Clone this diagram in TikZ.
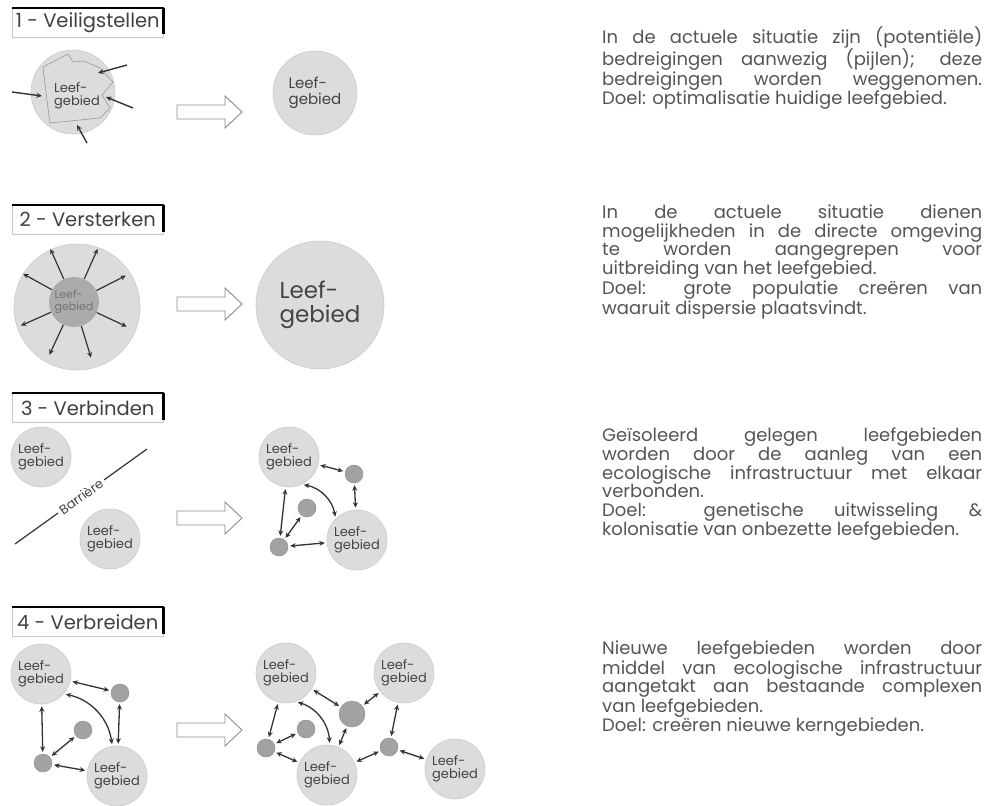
\documentclass[tikz,border=0pt]{standalone}
\usepackage{fontspec}
\setmainfont{Poppins}
\usetikzlibrary{arrows.meta,calc}
\setlength{\parindent}{0pt}
\definecolor{habfill}{HTML}{DCDCDC}
\definecolor{habline}{HTML}{CACACA}
\definecolor{stonefill}{HTML}{A2A2A2}
\definecolor{coregray}{HTML}{ABABAB}
\definecolor{inkgray}{HTML}{333333}
\definecolor{textgray}{HTML}{555555}
\definecolor{labelgray}{HTML}{444444}
\tikzset{
  habitat/.style={circle, fill=habfill, draw=habline, line width=0.6pt, minimum size=60pt, inner sep=0pt,
    align=left, text=labelgray, font=\fontsize{13}{13.5}\selectfont},
  stone/.style={circle, fill=stonefill, draw=stonefill!85!black, line width=0.4pt, minimum size=18pt, inner sep=0pt},
  link/.style={{Stealth[length=5.5pt,width=5pt]}-{Stealth[length=5.5pt,width=5pt]}, line width=1.3pt, draw=inkgray,
    shorten <=2pt, shorten >=2pt},
  threat/.style={-{Stealth[length=5.5pt,width=5pt]}, line width=1.4pt, draw=inkgray},
  spoke/.style={-{Stealth[length=5.5pt,width=5pt]}, line width=1.2pt, draw=inkgray},
  titlebox/.style={draw=black!22, line width=0.5pt, anchor=north west, minimum width=151pt,
    minimum height=29pt, inner xsep=2pt, text=black!75, font=\fontsize{19.5}{19.5}\selectfont},
  titlerule/.style={draw=black, line width=2pt},
  bodytext/.style={anchor=north west, text width=380pt, align=justify, inner sep=0pt, text=textgray,
    font=\fontsize{18}{18.2}\selectfont},
  fwd/.pic={\draw[draw=black!45, fill=white, line width=0.9pt] (0,-7) -- (48,-7) -- (48,-16) -- (65,0) -- (48,16) -- (48,7) -- (0,7) -- cycle;}
}
\begin{document}
\begin{tikzpicture}[x=1pt, y=-1pt]
  \useasboundingbox[fill=white] (0,0) rectangle (984,805);

  % titles
  \node[titlebox] (t1) at (12,8) {1 - Veiligstellen};
  \node[titlebox] (t2) at (12,205) {2 - Versterken};
  \node[titlebox] (t3) at (12,393) {3 - Verbinden};
  \node[titlebox] (t4) at (12,607) {4 - Verbreiden};
  \foreach \t in {t1,t2,t3,t4} {
    \draw[titlerule] (\t.north west) -- (\t.north east);
    \draw[titlerule, line width=3.2pt] (\t.north east) -- ($(\t.south east)+(0,-3)$);
  }

  % 1 - veiligstellen
  \node[habitat, minimum size=84pt] (hab1a) at (73,92) {};
  \draw[black!40, line width=0.6pt] (43,67) -- (68,54) -- (73,62) -- (84,61) -- (100,68) -- (113,82)
    -- (102,95) -- (110,108) -- (100,118) -- (50,123) -- (47,100) -- cycle;
  \node[align=left, text=labelgray, font=\fontsize{13}{13.5}\selectfont] (lab1a) at (77,96) {Leef-\\gebied};
  \coordinate (thr1s) at (127,65);  \coordinate (thr1e) at (98,73);
  \coordinate (thr2s) at (12,92);   \coordinate (thr2e) at (42,96);
  \coordinate (thr3s) at (133,108); \coordinate (thr3e) at (106,97);
  \coordinate (thr4s) at (87,143);  \coordinate (thr4e) at (77,125);
  \foreach \i in {1,...,4} \draw[threat] (thr\i s) -- (thr\i e);
  \pic at (177,112) {fwd};
  \node[habitat, minimum size=84pt, font=\fontsize{15}{16}\selectfont] (hab1b) at (315,93) {Leef-\\gebied};

  % 2 - versterken
  \node[habitat, minimum size=126pt] (grow) at (77,307) {};
  \node[circle, fill=coregray, minimum size=50pt, inner sep=0pt, align=left, text=black!55,
    font=\fontsize{11}{11.5}\selectfont] (core) at (74,302) {Leef-\\gebied};
  \foreach \a in {27,66,114,151,204,245,287,335}
    \draw[spoke] (core.\a) -- ++(\a:33pt);
  \pic at (177,304) {fwd};
  \node[habitat, minimum size=128pt, font=\fontsize{23}{24}\selectfont] (hab2b) at (320,305) {Leef-\\gebied};

  % 3 - verbinden
  \node[habitat] (hab3a) at (41,457) {Leef-\\gebied};
  \node[habitat] (hab3b) at (110,539) {Leef-\\gebied};
  \coordinate (barS) at (15,544);
  \coordinate (barE) at (147,449);
  \draw[inkgray, line width=1.2pt] (barS) -- (barE)
    node[midway, sloped, fill=white, inner xsep=3pt, inner ysep=1pt, text=labelgray,
      font=\fontsize{13}{13}\selectfont] (barlab) {Barrière};
  \pic at (177,518) {fwd};
  \node[habitat] (hab3c) at (289,457) {Leef-\\gebied};
  \node[habitat] (hab3d) at (357,540) {Leef-\\gebied};
  \node[stone] (s1) at (354,474) {};
  \node[stone] (s2) at (307,508) {};
  \node[stone] (s3) at (279,547) {};
  \draw[link] (hab3c) -- (s1);
  \draw[link] (s1) -- (hab3d);
  \draw[link] (hab3c) -- (s3);
  \draw[link] (s3) -- (s2);
  \draw[link] (s3) -- (hab3d);
  \draw[link] (hab3c.-65) to[bend left=35] (hab3d.135);

  % 4 - verbreiden
  \node[habitat] (hab4a) at (41,674) {Leef-\\gebied};
  \node[habitat] (hab4b) at (117,776) {Leef-\\gebied};
  \node[stone] (s4) at (120,693) {};
  \node[stone] (s5) at (83,730) {};
  \node[stone] (s6) at (43,763) {};
  \draw[link] (hab4a) -- (s4);
  \draw[link] (s4) -- (hab4b);
  \draw[link] (hab4a) -- (s6);
  \draw[link] (s6) -- (s5);
  \draw[link] (s6) -- (hab4b);
  \draw[link] (hab4a.-41) to[bend left=35] (hab4b.99);
  \pic at (177,730) {fwd};
  \node[habitat] (hab4c) at (286,673) {Leef-\\gebied};
  \node[habitat] (hab4d) at (404,673) {Leef-\\gebied};
  \node[habitat] (hab4e) at (327,775) {Leef-\\gebied};
  \node[habitat] (hab4f) at (455,769) {Leef-\\gebied};
  \node[stone, minimum size=26pt] (hub) at (352,714) {};
  \node[stone] (s7) at (306,729) {};
  \node[stone] (s8) at (266,748) {};
  \node[stone] (s9) at (389,747) {};
  \draw[link] (hab4c) -- (hub);
  \draw[link] (hub) -- (hab4d);
  \draw[link] (hab4c) -- (s8);
  \draw[link] (s8) -- (s7);
  \draw[link] (s8) -- (hab4e);
  \draw[link] (hub) -- (hab4e);
  \draw[link] (hab4d) -- (s9);
  \draw[link] (s9) -- (hab4e);
  \draw[link] (s9) -- (hab4f);
  \draw[link] (hab4c.-71) to[bend left=35] (hab4e.85);

  % explanations
  \node[bodytext] (txt1) at (602,26) {In de actuele situatie zijn (potentiële)\linebreak
    bedreigingen aanwezig (pijlen); deze\linebreak
    bedreigingen worden weggenomen.\linebreak
    Doel: optimalisatie huidige leefgebied.};
  \node[bodytext] (txt2) at (602,205) {In de actuele situatie dienen\linebreak
    mogelijkheden in de directe omgeving\linebreak
    te worden aangegrepen voor\linebreak
    uitbreiding van het leefgebied.\\
    Doel: grote populatie creëren van\linebreak
    waaruit dispersie plaatsvindt.};
  \node[bodytext] (txt3) at (602,428) {Geïsoleerd gelegen leefgebieden\linebreak
    worden door de aanleg van een\linebreak
    ecologische infrastructuur met elkaar\linebreak
    verbonden.\\
    Doel: genetische uitwisseling \&\linebreak
    kolonisatie van onbezette leefgebieden.};
  \node[bodytext] (txt4) at (602,641) {Nieuwe leefgebieden worden door\linebreak
    middel van ecologische infrastructuur\linebreak
    aangetakt aan bestaande complexen\linebreak
    van leefgebieden.\\
    Doel: creëren nieuwe kerngebieden.};
\end{tikzpicture}
\end{document}
